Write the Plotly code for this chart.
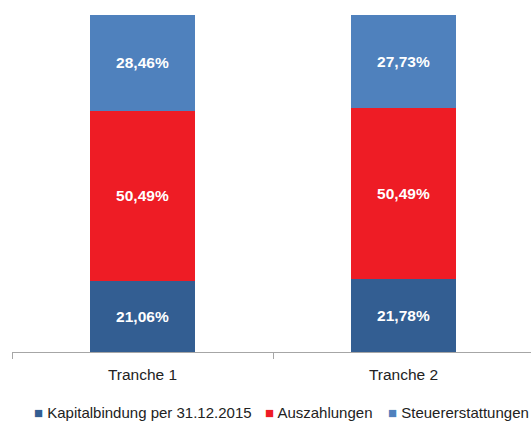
import plotly.graph_objects as go

categories = ["Tranche 1", "Tranche 2"]
kapital = [21.06, 21.78]
auszahlungen = [50.49, 50.49]
steuer = [28.46, 27.73]
series_names = ["Kapitalbindung per 31.12.2015", "Auszahlungen", "Steuererstattungen"]
colors = ["#335E92", "#EE1C25", "#4F81BD"]

W, H = 534, 424
ML, MR, MT, MB = 12, 0, 15, 72
plot_w = W - ML - MR
plot_h = H - MT - MB

fig = go.Figure()
for name, vals, col in zip(series_names, [kapital, auszahlungen, steuer], colors):
    fig.add_trace(go.Bar(
        x=categories, y=vals, name=name, marker=dict(color=col, line=dict(width=0)),
        texttemplate="%{y:.2f}%", textposition="inside", insidetextanchor="middle",
        textfont=dict(family="Liberation Sans", size=15.5, color="white", weight="bold"),
        width=0.4, showlegend=False,
    ))

# custom one-line legend (as in the reference), built from the series names/colours
legend_left_px = [32, 263, 386]
legend_y = -(412 - (H - MB)) / plot_h
for name, col, lx in zip(series_names, colors, legend_left_px):
    txt = f"<span style='color:{col}'>■</span> {name}"
    fig.add_annotation(x=(lx - ML) / plot_w, xref="paper", y=legend_y, yref="paper",
                       text=txt, showarrow=False, xanchor="left", yanchor="middle",
                       font=dict(size=15, color="#222222"))

fig.update_layout(
    barmode="stack",
    separators=",.",
    width=W, height=H,
    margin=dict(l=ML, r=MR, t=MT, b=MB, autoexpand=False),
    plot_bgcolor="white", paper_bgcolor="white",
    font=dict(family="Liberation Sans", size=15.5, color="#222222"),
    xaxis=dict(showline=True, linecolor="#A6A6A6", linewidth=1, ticks="outside",
               tickson="boundaries", ticklen=6, tickcolor="#A6A6A6",
               tickfont=dict(size=15.5), ticklabelstandoff=8,
               range=[-0.5, 1.5], fixedrange=True),
    yaxis=dict(visible=False, range=[0, 100], fixedrange=True),
    showlegend=False,
)
fig.write_html("out.html", config={"displayModeBar": False},
               post_script="document.body.style.margin='0';document.body.style.overflow='hidden';")
